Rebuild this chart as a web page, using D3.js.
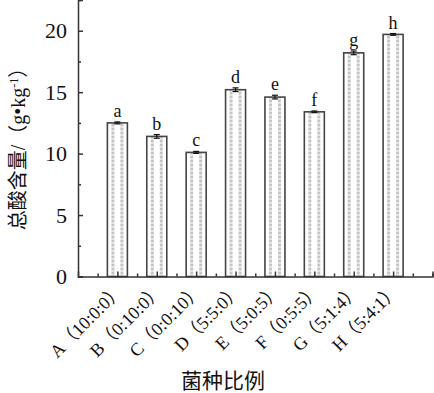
<!DOCTYPE html>
<html>
<head>
<meta charset="utf-8">
<script src="https://cdn.jsdelivr.net/npm/d3@7"></script>
<style>
  body { margin: 0; background: #fff; }
  svg text { font-family: "Liberation Serif", "Times New Roman", "Noto Sans CJK SC", serif; fill: #111; }
</style>
</head>
<body>
<svg id="chart"></svg>
<script>
const width = 434;
const height = 393;

// données
const categories = ["A（10:0:0）", "B（0:10:0）", "C（0:0:10）", "D（5:5:0）", "E（5:0:5）", "F（0:5:5）", "G（5:1:4）", "H（5:4:1）"];
const values = [12.5, 11.4, 10.1, 15.2, 14.6, 13.4, 18.2, 19.7];
const errors = [0.08, 0.15, 0.08, 0.15, 0.15, 0.07, 0.15, 0.07];
const letters = ["a", "b", "c", "d", "e", "f", "g", "h"];
const yTicks = [0, 5, 10, 15, 20];
const yMinorTicks = [2.5, 7.5, 12.5, 17.5, 22.5];

const margin = { left: 78, top: 0, right: 1.5, bottom: 116.5 };
const axisColor = "#333";

const svg = d3.select("#chart").attr("width", width).attr("height", height);

const x = d3.scaleLinear().domain([0, categories.length + 1]).range([margin.left, width - margin.right]);
const y = d3.scaleLinear().domain([0, 22.5]).range([height - margin.bottom, margin.top]);
const barW = 20;

// étiquettes inclinées de l'axe X
categories.forEach((d, i) => {
  svg.append("text")
    .attr("x", x(i + 1) + 7)
    .attr("y", y(0) + 15)
    .attr("text-anchor", "end")
    .attr("font-size", 18)
    .attr("transform", `rotate(-45,${x(i + 1) + 7},${y(0) + 15})`)
    .text(d);
});

// motif des barres
const defs = svg.append("defs");
categories.forEach((c, i) => {
  const p = defs.append("pattern")
    .attr("id", "pat" + i)
    .attr("patternUnits", "userSpaceOnUse")
    .attr("x", x(i + 1) - barW / 2)
    .attr("y", 0)
    .attr("width", barW)
    .attr("height", 4);
  p.append("rect").attr("width", barW).attr("height", 4).attr("fill", "#fff");
  [5.5, 14.5].forEach(cx => {
    p.append("rect").attr("x", cx - 1.5).attr("y", 0).attr("width", 3).attr("height", 2).attr("fill", "#c4c4c4");
    p.append("rect").attr("x", cx - 1.5).attr("y", 2).attr("width", 3).attr("height", 2).attr("fill", "#e2e2e2");
  });
});

// barres
svg.selectAll("rect.bar")
  .data(values)
  .enter()
  .append("rect")
  .attr("class", "bar")
  .attr("x", (d, i) => x(i + 1) - barW / 2)
  .attr("y", d => y(d))
  .attr("width", barW)
  .attr("height", d => y(0) - y(d))
  .attr("fill", (d, i) => `url(#pat${i})`)
  .attr("stroke", "#444")
  .attr("stroke-width", 1.6);

// barres d'erreur
const err = svg.selectAll("g.err")
  .data(values)
  .enter()
  .append("g")
  .attr("class", "err")
  .attr("stroke", "#111")
  .attr("stroke-width", 1.2);
err.append("line")
  .attr("x1", (d, i) => x(i + 1)).attr("x2", (d, i) => x(i + 1))
  .attr("y1", (d, i) => y(d - errors[i])).attr("y2", (d, i) => y(d + errors[i]));
[-1, 1].forEach(s => {
  err.append("line")
    .attr("x1", (d, i) => x(i + 1) - 3).attr("x2", (d, i) => x(i + 1) + 3)
    .attr("y1", (d, i) => y(d + s * errors[i])).attr("y2", (d, i) => y(d + s * errors[i]));
});

// lettres de significativité
svg.selectAll("text.sig")
  .data(values)
  .enter()
  .append("text")
  .attr("class", "sig")
  .attr("x", (d, i) => x(i + 1))
  .attr("y", (d, i) => y(d + errors[i]) - 5)
  .attr("text-anchor", "middle")
  .attr("font-size", 18)
  .text((d, i) => letters[i]);

// axe Y
const yAxis = svg.append("g")
  .attr("transform", `translate(${margin.left},0)`)
  .call(d3.axisLeft(y).tickValues(yTicks).tickSize(-5).tickPadding(11).tickFormat(d3.format("d")));
yAxis.append("g")
  .call(d3.axisLeft(y).tickValues(yMinorTicks).tickSize(-3).tickFormat(""))
  .select(".domain").remove();
yAxis.selectAll("text").attr("font-size", 22).style("font-family", "Liberation Serif");

// axe X
const xMajor = d3.range(1, categories.length + 1);
const xMinor = d3.range(0.5, categories.length + 1.5, 1).concat([categories.length + 1]);
const xAxis = svg.append("g")
  .attr("transform", `translate(0,${y(0)})`)
  .call(d3.axisBottom(x).tickValues(xMajor).tickSize(-5).tickFormat(""));
xAxis.append("g")
  .call(d3.axisBottom(x).tickValues(xMinor).tickSize(-3).tickFormat(""))
  .select(".domain").remove();

svg.selectAll(".domain, .tick line").attr("stroke", axisColor).attr("stroke-width", 1.5);

// titres des axes
svg.append("text")
  .attr("x", 223)
  .attr("y", 388)
  .attr("text-anchor", "middle")
  .attr("font-size", 21)
  .text("菌种比例");

svg.append("text")
  .attr("transform", "translate(25,144) rotate(-90)")
  .attr("text-anchor", "middle")
  .attr("font-size", 20)
  .html("总酸含量/（g•kg<tspan dy='-7' font-size='12'>-1</tspan><tspan dy='7'>）</tspan>");
</script>
</body>
</html>
